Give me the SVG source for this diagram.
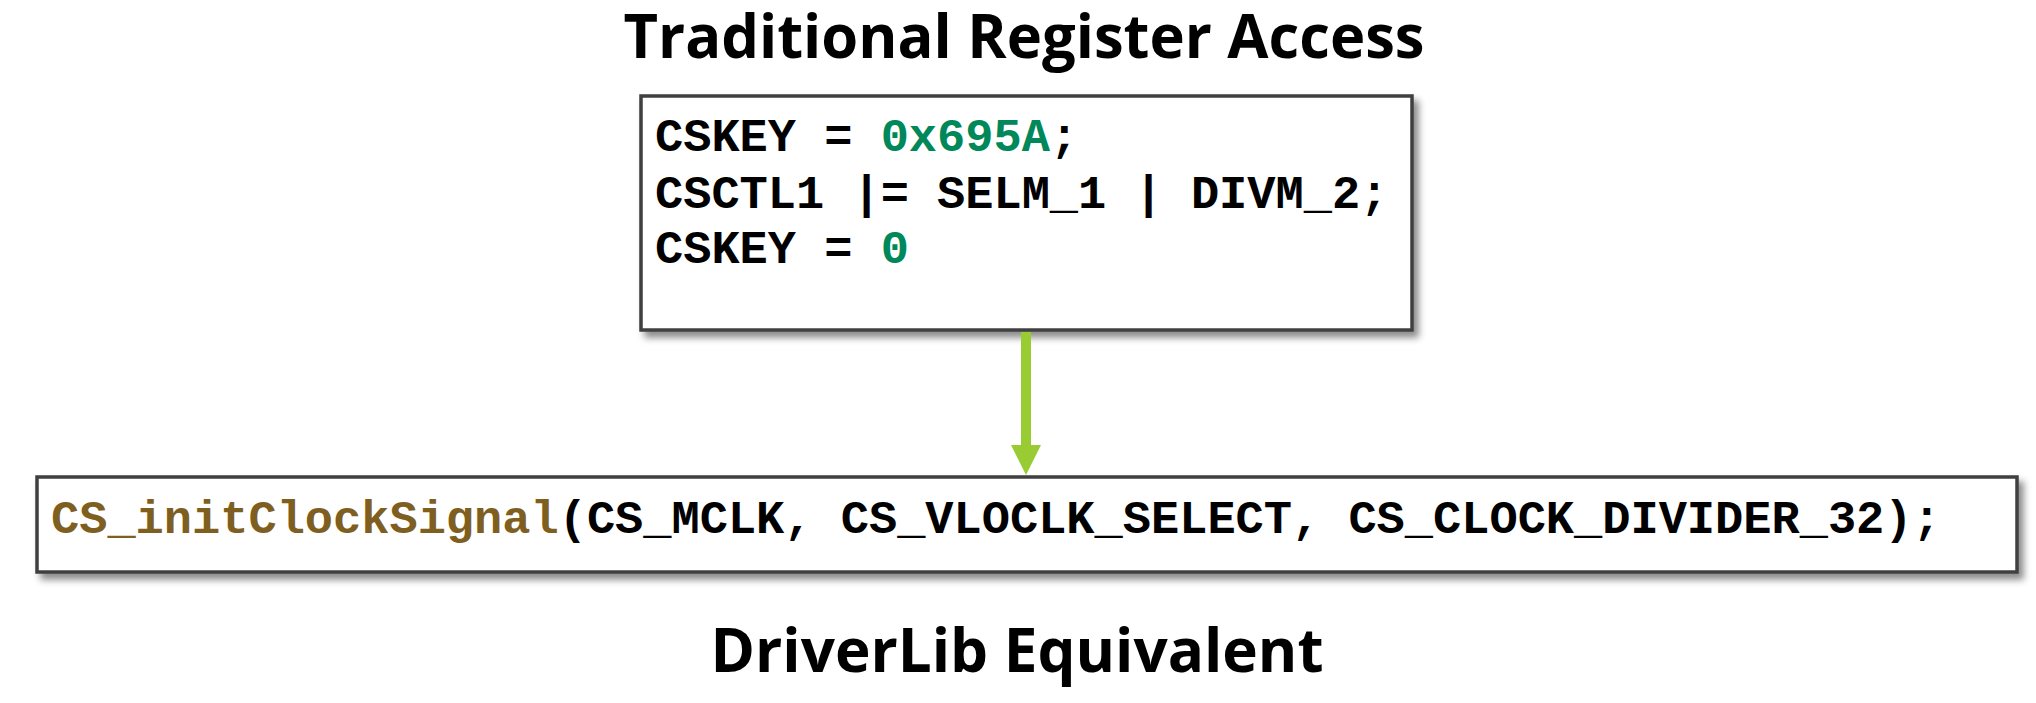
<svg xmlns="http://www.w3.org/2000/svg" width="2036" height="703" viewBox="0 0 2036 703">
  <style>
    .title { font-family: "Open Sans", "Liberation Sans", sans-serif; font-weight: bold; font-size: 61px; fill: #000; }
    .code { font-family: "Liberation Mono", "DejaVu Sans Mono", monospace; font-weight: bold; font-size: 47px; fill: #000; }
    .num { fill: #00875a; }
    .fn { fill: #7f5f1f; }
    .box { fill: #fff; stroke: #3f3f3f; stroke-width: 3.5; filter: url(#shadow); }
  </style>
  <defs>
    <filter id="shadow" x="-5%" y="-10%" width="115%" height="130%">
      <feDropShadow dx="5" dy="6" stdDeviation="3.5" flood-color="#000" flood-opacity="0.45"/>
    </filter>
    <marker id="arrow" markerUnits="userSpaceOnUse" markerWidth="30" markerHeight="31" refX="30" refY="15" orient="auto" viewBox="0 0 30 30">
      <path d="M0,0 L30,15 L0,30 Z" fill="#99cc33"/>
    </marker>
  </defs>
  <rect width="2036" height="703" fill="#fff"/>

  <g id="title-top">
    <text class="title" x="1024" y="58" text-anchor="middle" textLength="801" lengthAdjust="spacingAndGlyphs">Traditional Register Access</text>
  </g>

  <g id="node-traditional">
    <rect class="box" x="641" y="96" width="771" height="234"/>
    <text class="code" x="655" y="151" xml:space="preserve">CSKEY = <tspan class="num">0x695A</tspan>;</text>
    <text class="code" x="655" y="208" xml:space="preserve">CSCTL1 |= SELM_1 | DIVM_2;</text>
    <text class="code" x="655" y="263" xml:space="preserve">CSKEY = <tspan class="num">0</tspan></text>
  </g>

  <g id="connectors">
    <line x1="1026" y1="332" x2="1026" y2="446" stroke="#99cc33" stroke-width="10"/>
    <path d="M1011,445 L1041,445 L1026,475 Z" fill="#99cc33"/>
  </g>

  <g id="node-driverlib">
    <rect class="box" x="37" y="477" width="1980" height="95"/>
    <text class="code" x="51" y="533" xml:space="preserve"><tspan class="fn">CS_initClockSignal</tspan>(CS_MCLK, CS_VLOCLK_SELECT, CS_CLOCK_DIVIDER_32);</text>
  </g>

  <g id="title-bottom">
    <text class="title" x="1017" y="672" text-anchor="middle" textLength="613" lengthAdjust="spacingAndGlyphs">DriverLib Equivalent</text>
  </g>
</svg>
